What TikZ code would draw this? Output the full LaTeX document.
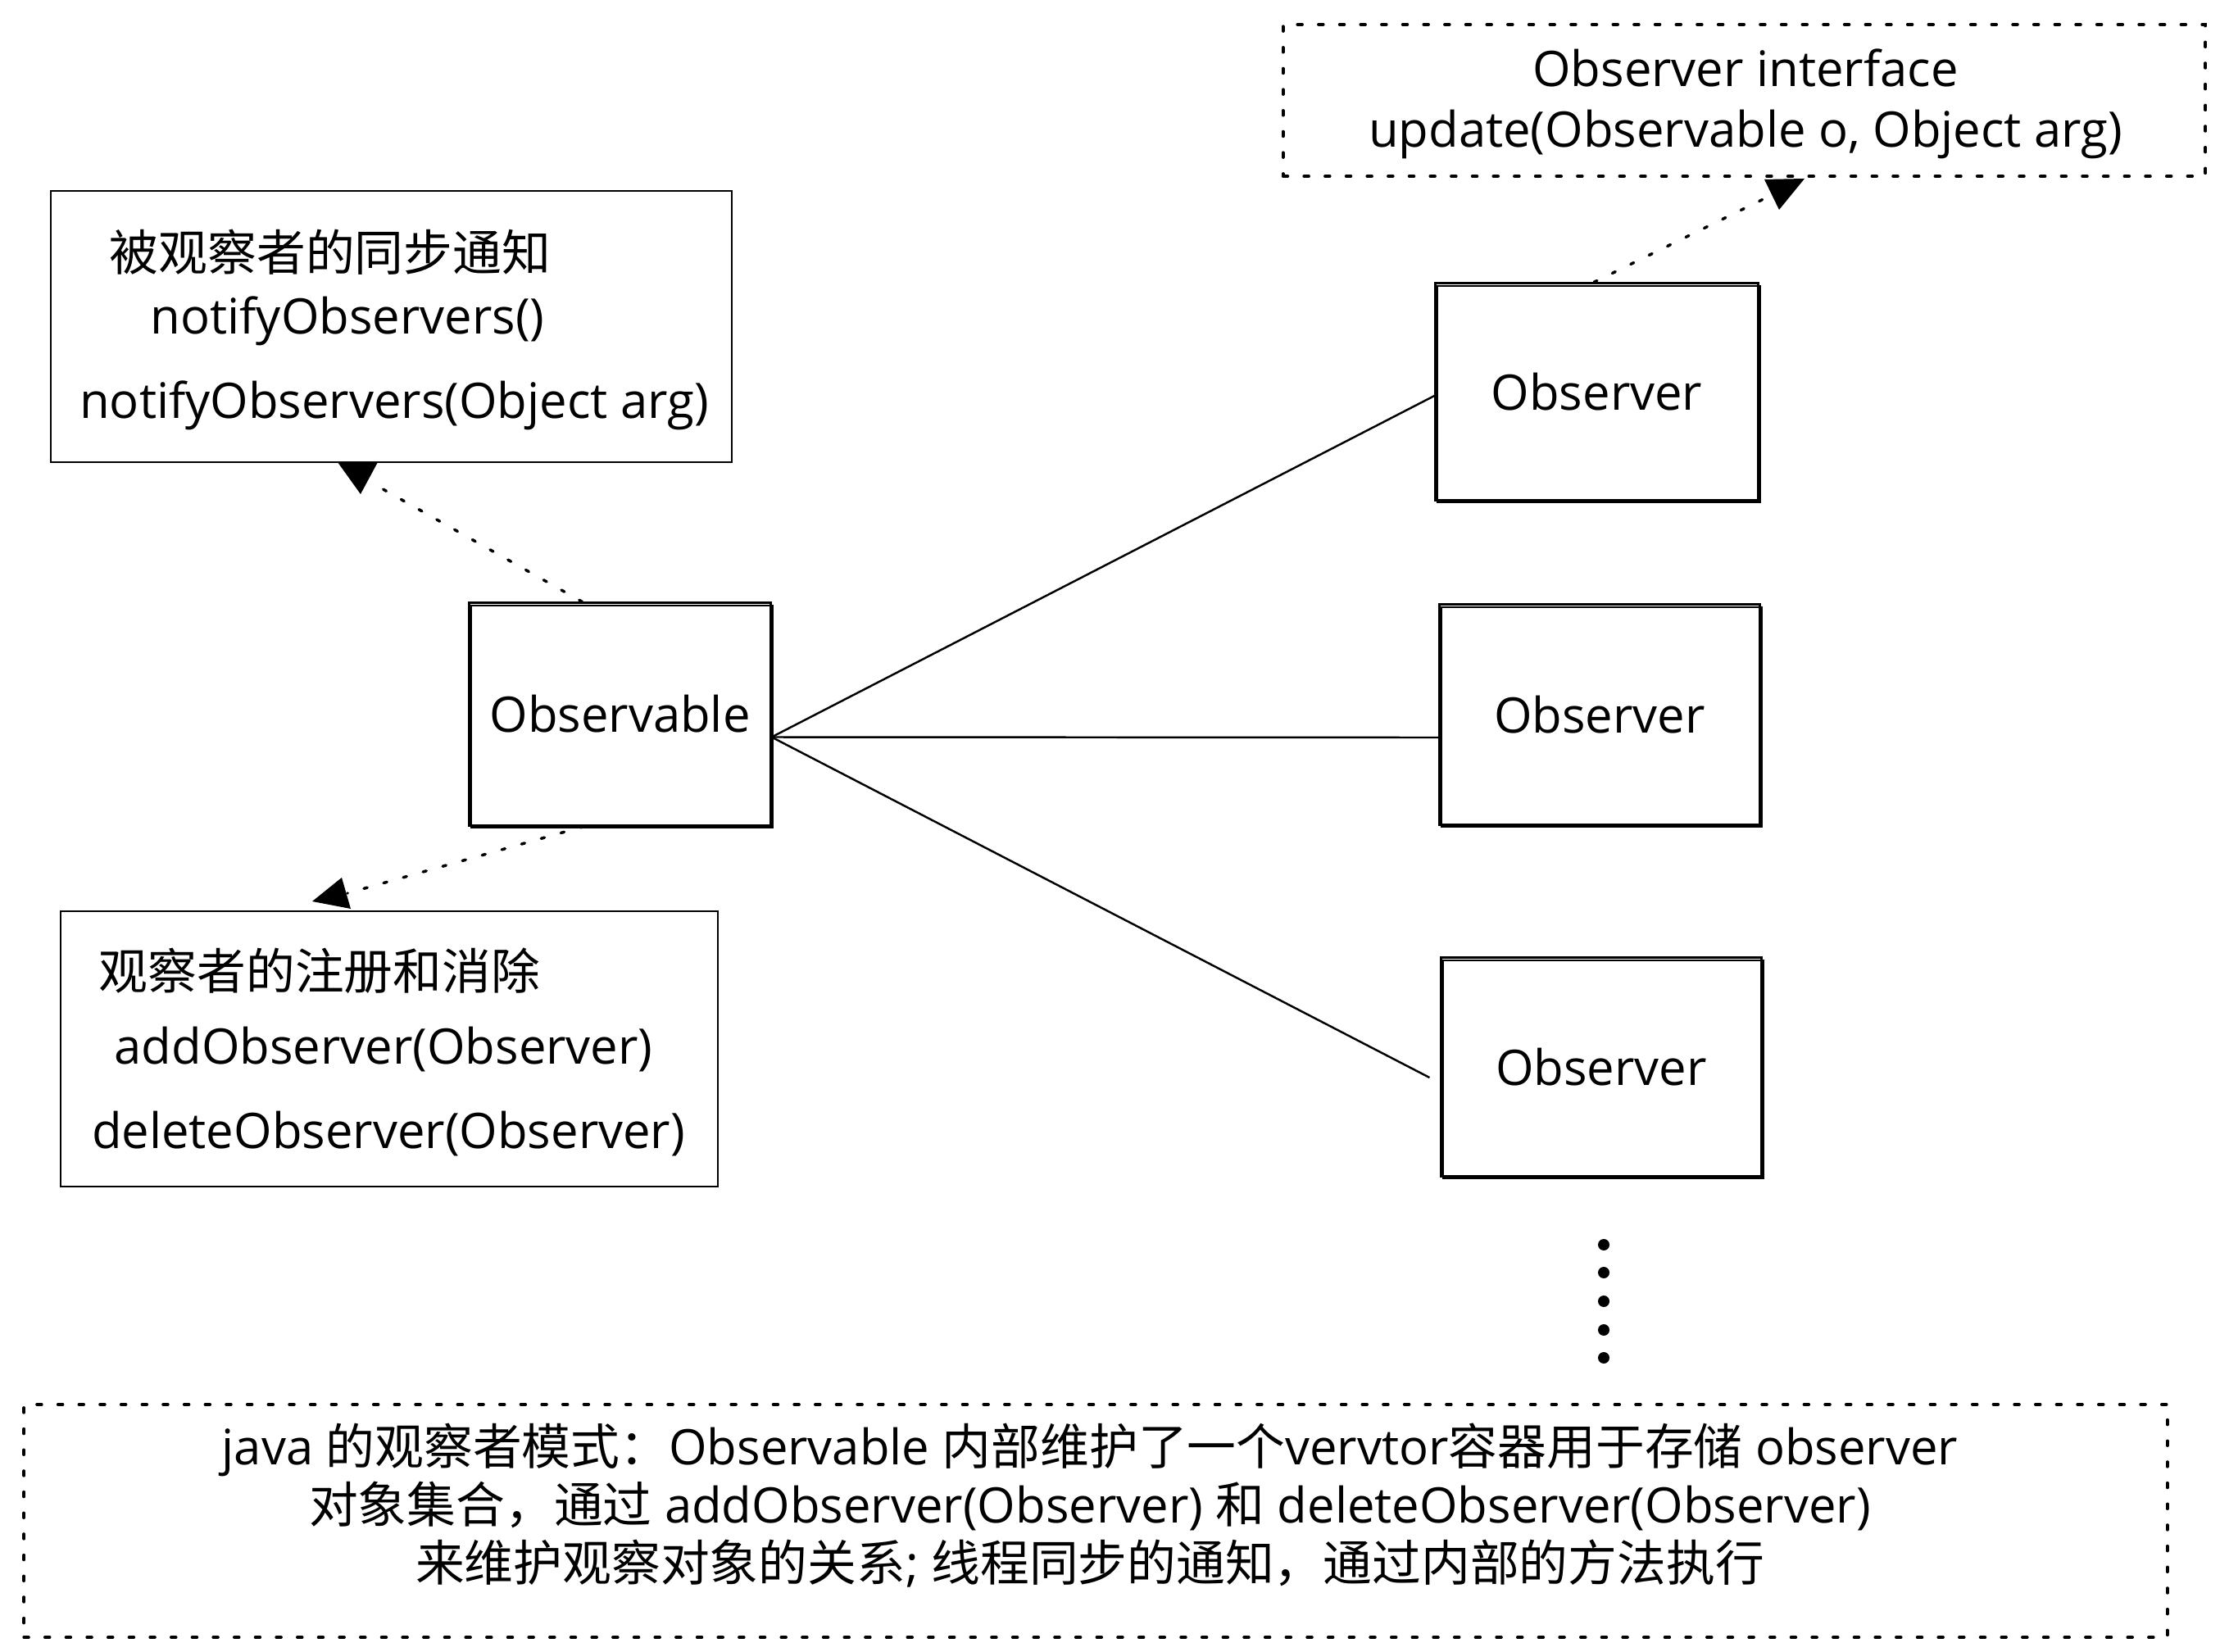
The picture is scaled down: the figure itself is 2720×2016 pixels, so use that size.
\documentclass[tikz,border=0pt]{standalone}
\usepackage{fontspec}
\setmainfont{Open Sans}
\newfontfamily\cjk{Noto Sans CJK SC}
\begin{document}
\begin{tikzpicture}[x=0.01cm, y=-0.01cm,
  font=\fontsize{17pt}{21pt}\selectfont,
  box/.style={draw, line width=0.7pt, rectangle, inner sep=0pt},
  sketch/.style={draw, line width=0.85pt, rectangle, inner sep=0pt,
    postaction={draw, line width=0.6pt, transform canvas={shift={(0.025cm,-0.03cm)}}}},
  dashbox/.style={draw, line width=1.1pt, dash pattern=on 1.6pt off 5.7pt, line cap=round, rectangle, inner sep=0pt},
  dotarrow/.style={line width=1pt, dash pattern=on 1.2pt off 5.9pt, line cap=round},
  link/.style={line width=0.7pt},
  lbl/.style={inner sep=0pt}]
\useasboundingbox (0,0) rectangle (2720,2016);

% notify box
\node[box, minimum width=8.31cm, minimum height=3.31cm] (notify) at (477.5,398.5) {};
\node[lbl] (n1) at (403,308) {\cjk 被观察者的同步通知};
\node[lbl] (n2) at (424,392) {notifyObservers()};
\node[lbl] (n3) at (481,495) {notifyObservers(Object arg)};

% observable
\node[sketch, minimum width=3.67cm, minimum height=2.71cm] (obs) at (756.5,871.5) {Observable};

% register box
\node[box, minimum width=8.02cm, minimum height=3.36cm] (reg) at (475,1280) {};
\node[lbl] (r1) at (390,1185) {\cjk 观察者的注册和消除};
\node[lbl] (r2) at (468,1281) {addObserver(Observer)};
\node[lbl] (r3) at (474,1384) {deleteObserver(Observer)};

% interface box
\node[dashbox, minimum width=11.25cm, minimum height=1.85cm] (intf) at (2128.5,122.5) {};
\node[lbl, align=center] (intftext) at (2130,127) {Observer interface\\update(Observable o, Object arg)};

% observers
\node[sketch, minimum width=3.93cm, minimum height=2.64cm] (o1) at (1948.5,478) {Observer};
\node[sketch, minimum width=3.90cm, minimum height=2.68cm] (o2) at (1952,872) {Observer};
\node[sketch, minimum width=3.90cm, minimum height=2.66cm] (o3) at (1954,1302) {Observer};

% ellipsis dots
\foreach \yy in {1519,1553,1588,1623,1657} \fill (1957,\yy) circle[radius=0.07cm];

% note box
\node[dashbox, minimum width=26.14cm, minimum height=2.84cm] (note) at (1337,1856) {};
\node[lbl, align=center, font=\fontsize{17pt}{20.2pt}\selectfont] (notetext) at (1330,1837) {java {\cjk 的观察者模式：}Observable {\cjk 内部维护了一个}vervtor{\cjk 容器用于存储} observer\\{\cjk 对象集合，通过} addObserver(Observer) {\cjk 和} deleteObserver(Observer)\\{\cjk 来维护观察对象的关系}; {\cjk 线程同步的通知，通过内部的方法执行}};

% solid links
\draw[link] ([yshift=-0.28cm]obs.east) -- ([yshift=-0.05cm]o1.west);
\draw[link] ([yshift=-0.28cm]obs.east) -- ([yshift=-0.28cm]o2.west);
\draw[link] ([yshift=-0.28cm]obs.east) -- ([shift={(-0.13cm,-0.13cm)}]o3.west);

% dotted arrows
\coordinate (nt) at (455,590);
\draw[dotarrow] ([xshift=-0.46cm]obs.north) -- (nt);
\fill (412,564) -- (461,564) -- (440,603) -- cycle;

\coordinate (rt) at (424,1090);
\draw[dotarrow] ([xshift=-0.44cm]obs.south) -- (rt);
\fill (417,1071) -- (381,1100) -- (428,1109) -- cycle;

\coordinate (it) at (2162,238);
\draw[dotarrow] ([xshift=-0.035cm]o1.north) -- (it);
\fill (2153,219) -- (2202,218) -- (2171,256) -- cycle;
\end{tikzpicture}
\end{document}
